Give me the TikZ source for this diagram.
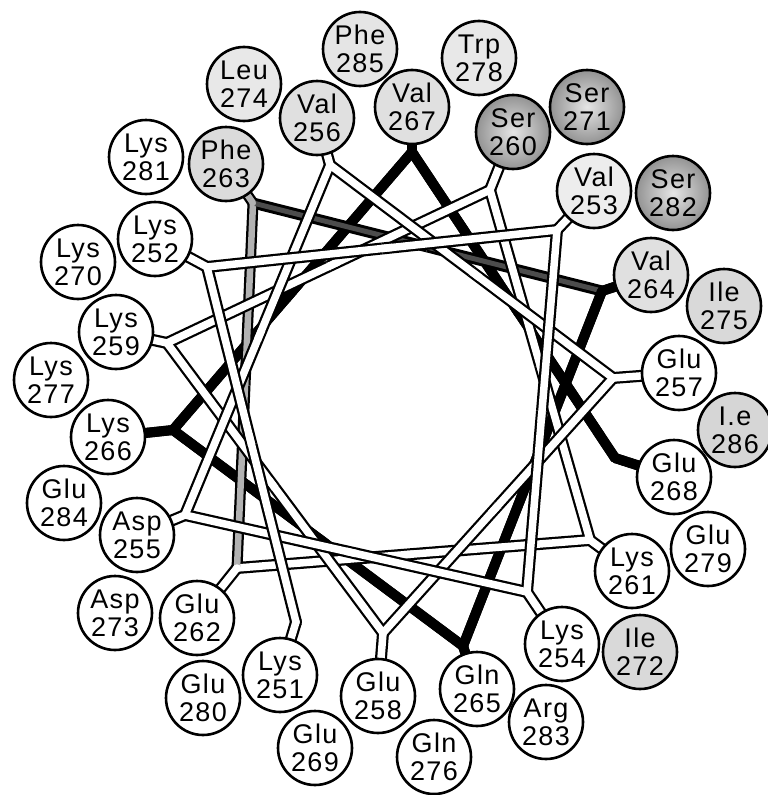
\documentclass[tikz,border=0pt]{standalone}
\usepackage{fontspec}
\usetikzlibrary{calc}
\newfontfamily\resfont[LetterSpace=5]{Liberation Sans}
\tikzset{
 Wout/.style={line width=12pt,draw=black},
 Win/.style={line width=7.5pt,draw=white},
 Gout/.style={line width=11pt,draw=black},
 Gin/.style={line width=6.5pt,draw=gray!60},
 Dout/.style={line width=11pt,draw=black},
 Din/.style={line width=5pt,draw=gray!60!black},
 Bout/.style={line width=10pt,draw=black},
 Bin/.style={line width=10pt,draw=black},
 res/.style={circle,draw=black,line width=2.6pt,minimum size=74pt,inner sep=0pt,
   align=center,font=\resfont\fontsize{27}{28}\selectfont,fill=white},
 hyd/.style={res,fill=gray!#1},
 ser/.style={res,shade,shading=radial,inner color=gray!20,outer color=gray!85},
}
\newcommand\Ypiece[6]{%
 \draw[#4out] ($(J#1)!0.5!(J#2)$) -- (J#1);
 \draw[#5out] ($(J#1)!0.5!(J#3)$) -- (J#1);
 \draw[#6out] (J#1) -- (C#1);
 \draw[#6out,line cap=round] (J#1) -- ++(0,0.01);
 \draw[#4in] ($(J#1)!0.53!(J#2)$) -- (J#1);
 \draw[#5in] ($(J#1)!0.53!(J#3)$) -- (J#1);
 \draw[#6in] (J#1) -- (C#1);
 \draw[#6in,line cap=round] (J#1) -- ++(0,0.01);
}
\newcommand\Yend[4]{%
 \draw[#3out] ($(J#1)!0.5!(J#2)$) -- (J#1);
 \draw[#4out] (J#1) -- (C#1);
 \draw[#4out,line cap=round] (J#1) -- ++(0,0.01);
 \draw[#3in] ($(J#1)!0.53!(J#2)$) -- (J#1);
 \draw[#4in] (J#1) -- (C#1);
 \draw[#4in,line cap=round] (J#1) -- ++(0,0.01);
}
\begin{document}
\begin{tikzpicture}[x=1pt,y=-1pt]
\useasboundingbox (0,0) rectangle (768,795);
% residue centres (inner ring)
\coordinate (C251) at (280,675);
\coordinate (C252) at (155,239);
\coordinate (C253) at (594,191);
\coordinate (C254) at (562,644);
\coordinate (C255) at (137,535);
\coordinate (C256) at (317,118);
\coordinate (C257) at (679,373);
\coordinate (C258) at (378,696);
\coordinate (C259) at (116,332);
\coordinate (C260) at (513,132);
\coordinate (C261) at (632,571);
\coordinate (C262) at (197,618);
\coordinate (C263) at (226,164);
\coordinate (C264) at (651,275);
\coordinate (C265) at (477,689);
\coordinate (C266) at (108,437);
\coordinate (C267) at (412,107);
\coordinate (C268) at (674,477);
% junctions
\coordinate (J251) at (296,622);
\coordinate (J252) at (207,267);
\coordinate (J253) at (557,230);
\coordinate (J254) at (527,592);
\coordinate (J255) at (185,515);
\coordinate (J256) at (330,165);
\coordinate (J257) at (613,378);
\coordinate (J258) at (383,633);
\coordinate (J259) at (167,343);
\coordinate (J260) at (490,190);
\coordinate (J261) at (590,540);
\coordinate (J262) at (237,568);
\coordinate (J263) at (253,203);
\coordinate (J264) at (602,291);
\coordinate (J265) at (463,646);
\coordinate (J266) at (173,430);
\coordinate (J267) at (412,152);
\coordinate (J268) at (615,458);
% helix path, back to front
\Yend{268}{267}{B}{B}
\Ypiece{267}{266}{268}{B}{B}{B}
\Ypiece{266}{265}{267}{B}{B}{B}
\Ypiece{265}{264}{266}{B}{B}{B}
\Ypiece{264}{263}{265}{D}{B}{B}
\Ypiece{263}{262}{264}{G}{D}{G}
\Ypiece{262}{261}{263}{W}{G}{W}
\Ypiece{261}{260}{262}{W}{W}{W}
\Ypiece{260}{259}{261}{W}{W}{W}
\Ypiece{259}{258}{260}{W}{W}{W}
\Ypiece{258}{257}{259}{W}{W}{W}
\Ypiece{257}{256}{258}{W}{W}{W}
\Ypiece{256}{255}{257}{W}{W}{W}
\Ypiece{255}{254}{256}{W}{W}{W}
\Ypiece{254}{253}{255}{W}{W}{W}
\Ypiece{253}{252}{254}{W}{W}{W}
\Ypiece{252}{251}{253}{W}{W}{W}
\Yend{251}{252}{W}{W}
% residues, inner ring
\node[res] (R251) at (C251) {Lys\\251};
\node[res] (R252) at (C252) {Lys\\252};
\node[hyd=14] (R253) at (C253) {Val\\253};
\node[res] (R254) at (C254) {Lys\\254};
\node[res] (R255) at (C255) {Asp\\255};
\node[hyd=24] (R256) at (C256) {Val\\256};
\node[res] (R257) at (C257) {Glu\\257};
\node[res] (R258) at (C258) {Glu\\258};
\node[res] (R259) at (C259) {Lys\\259};
\node[ser] (R260) at (C260) {Ser\\260};
\node[res] (R261) at (C261) {Lys\\261};
\node[res] (R262) at (C262) {Glu\\262};
\node[hyd=28] (R263) at (C263) {Phe\\263};
\node[hyd=24] (R264) at (C264) {Val\\264};
\node[res] (R265) at (C265) {Gln\\265};
\node[res] (R266) at (C266) {Lys\\266};
\node[hyd=24] (R267) at (C267) {Val\\267};
\node[res] (R268) at (C268) {Glu\\268};
% residues, outer ring
\node[res] (R269) at (315,748) {Glu\\269};
\node[res] (R270) at (78,262) {Lys\\270};
\node[ser] (R271) at (587,107) {Ser\\271};
\node[hyd=30] (R272) at (640,652) {Ile\\272};
\node[res] (R273) at (115,613) {Asp\\273};
\node[hyd=18] (R274) at (244,84) {Leu\\274};
\node[hyd=30] (R275) at (724,306) {Ile\\275};
\node[res] (R276) at (434,757) {Gln\\276};
\node[res] (R277) at (51,380) {Lys\\277};
\node[hyd=18] (R278) at (479,58) {Trp\\278};
\node[res] (R279) at (708,549) {Glu\\279};
\node[res] (R280) at (203,698) {Glu\\280};
\node[res] (R281) at (146,157) {Lys\\281};
\node[ser] (R282) at (673,193) {Ser\\282};
\node[res] (R283) at (546,722) {Arg\\283};
\node[res] (R284) at (64,503) {Glu\\284};
\node[hyd=20] (R285) at (360,49) {Phe\\285};
\node[hyd=32] (R286) at (735,430) {I.e\\286};
\end{tikzpicture}
\end{document}
